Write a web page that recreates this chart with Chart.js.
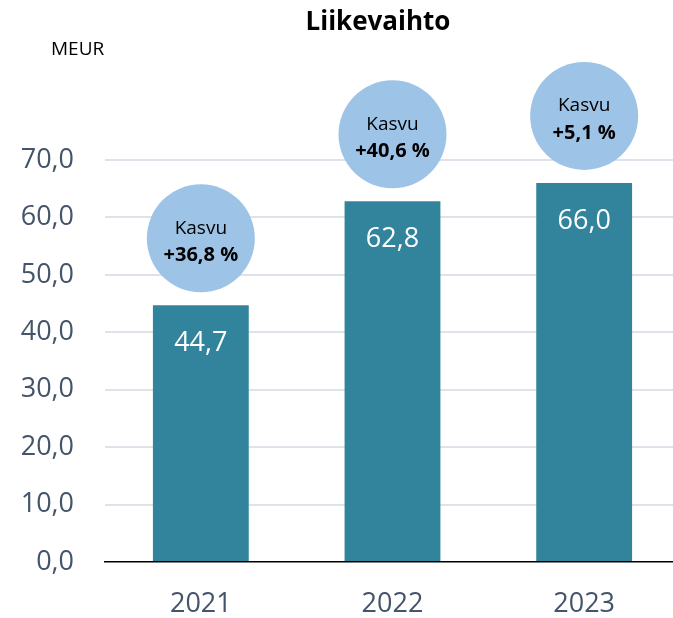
<!DOCTYPE html>
<html>
<head>
<meta charset="utf-8">
<script src="https://cdn.jsdelivr.net/npm/chart.js@4.4.1/dist/chart.umd.min.js"></script>
<style>
    html, body { margin: 0; padding: 0; background: #ffffff; overflow: hidden; }
    #wrap { width: 680px; height: 618px; }
</style>
</head>
<body>
<div id="wrap"><canvas id="chart"></canvas></div>
<script>
const years = ['2021', '2022', '2023'];
const revenue = [44.7, 62.8, 66.0];
const growth = ['+36,8 %', '+40,6 %', '+5,1 %'];
const growthLabel = 'Kasvu';
const chartTitle = 'Liikevaihto';
const unitLabel = 'MEUR';

const fmt = v => v.toFixed(1).replace('.', ',');

// title + unit text at the top
const headings = {
    id: 'headings',
    afterDraw(chart) {
        const ctx = chart.ctx;
        ctx.save();
        ctx.fillStyle = '#000000';
        ctx.textBaseline = 'middle';
        ctx.textAlign = 'center';
        ctx.font = "bold 26px 'Open Sans'";
        ctx.fillText(chartTitle, 378, 23);
        ctx.textAlign = 'left';
        ctx.font = "19px 'Open Sans'";
        ctx.fillText(unitLabel, 51, 50);
        ctx.restore();
    }
};

// value labels in the bars and growth bubbles above them
const barDecor = {
    id: 'barDecor',
    afterDatasetsDraw(chart) {
        const ctx = chart.ctx;
        const meta = chart.getDatasetMeta(0);
        ctx.save();
        meta.data.forEach((bar, i) => {
            ctx.fillStyle = '#ffffff';
            ctx.textAlign = 'center';
            ctx.textBaseline = 'middle';
            ctx.font = "27px 'Open Sans'";
            ctx.fillText(fmt(revenue[i]), bar.x, bar.y + 38);

            const cy = bar.y - 67;
            ctx.beginPath();
            ctx.ellipse(bar.x, cy, 54, 54, 0, 0, Math.PI * 2);
            ctx.fillStyle = '#9DC3E6';
            ctx.fill();

            ctx.fillStyle = '#000000';
            ctx.font = "19px 'Open Sans'";
            ctx.fillText(growthLabel, bar.x, cy - 10);
            ctx.font = "bold 20px 'Open Sans'";
            ctx.fillText(growth[i], bar.x, cy + 17);
        });
        ctx.restore();
    }
};

new Chart(document.getElementById('chart').getContext('2d'), {
    type: 'bar',
    data: {
        labels: years,
        datasets: [{
            data: revenue,
            backgroundColor: '#31849B',
            borderWidth: 0,
            categoryPercentage: 1.0,
            barPercentage: 0.5
        }]
    },
    options: {
        responsive: true,
        maintainAspectRatio: false,
        animation: false,
        layout: { padding: { top: 160, right: 0, left: 0, bottom: 0 } },
        plugins: {
            legend: { display: false },
            tooltip: { enabled: false }
        },
        scales: {
            x: {
                grid: { display: false, drawTicks: false },
                border: { display: true, color: '#000000', width: 1.5 },
                ticks: {
                    color: '#44546A',
                    padding: 26,
                    font: { family: "'Open Sans'", size: 27 }
                },
                afterFit(scale) { scale.height = 56; }
            },
            y: {
                min: 0,
                max: 70,
                grid: {
                    drawTicks: false,
                    lineWidth: 2,
                    color: c => (c.tick && c.tick.value === 0) ? 'rgba(0,0,0,0)' : '#DEE3EA'
                },
                border: { display: false },
                ticks: {
                    stepSize: 10,
                    color: '#44546A',
                    padding: 31,
                    font: { family: "'Open Sans'", size: 27 },
                    callback: v => fmt(v)
                },
                afterFit(scale) { scale.width = 105; }
            }
        }
    },
    plugins: [headings, barDecor]
});
</script>
</body>
</html>
